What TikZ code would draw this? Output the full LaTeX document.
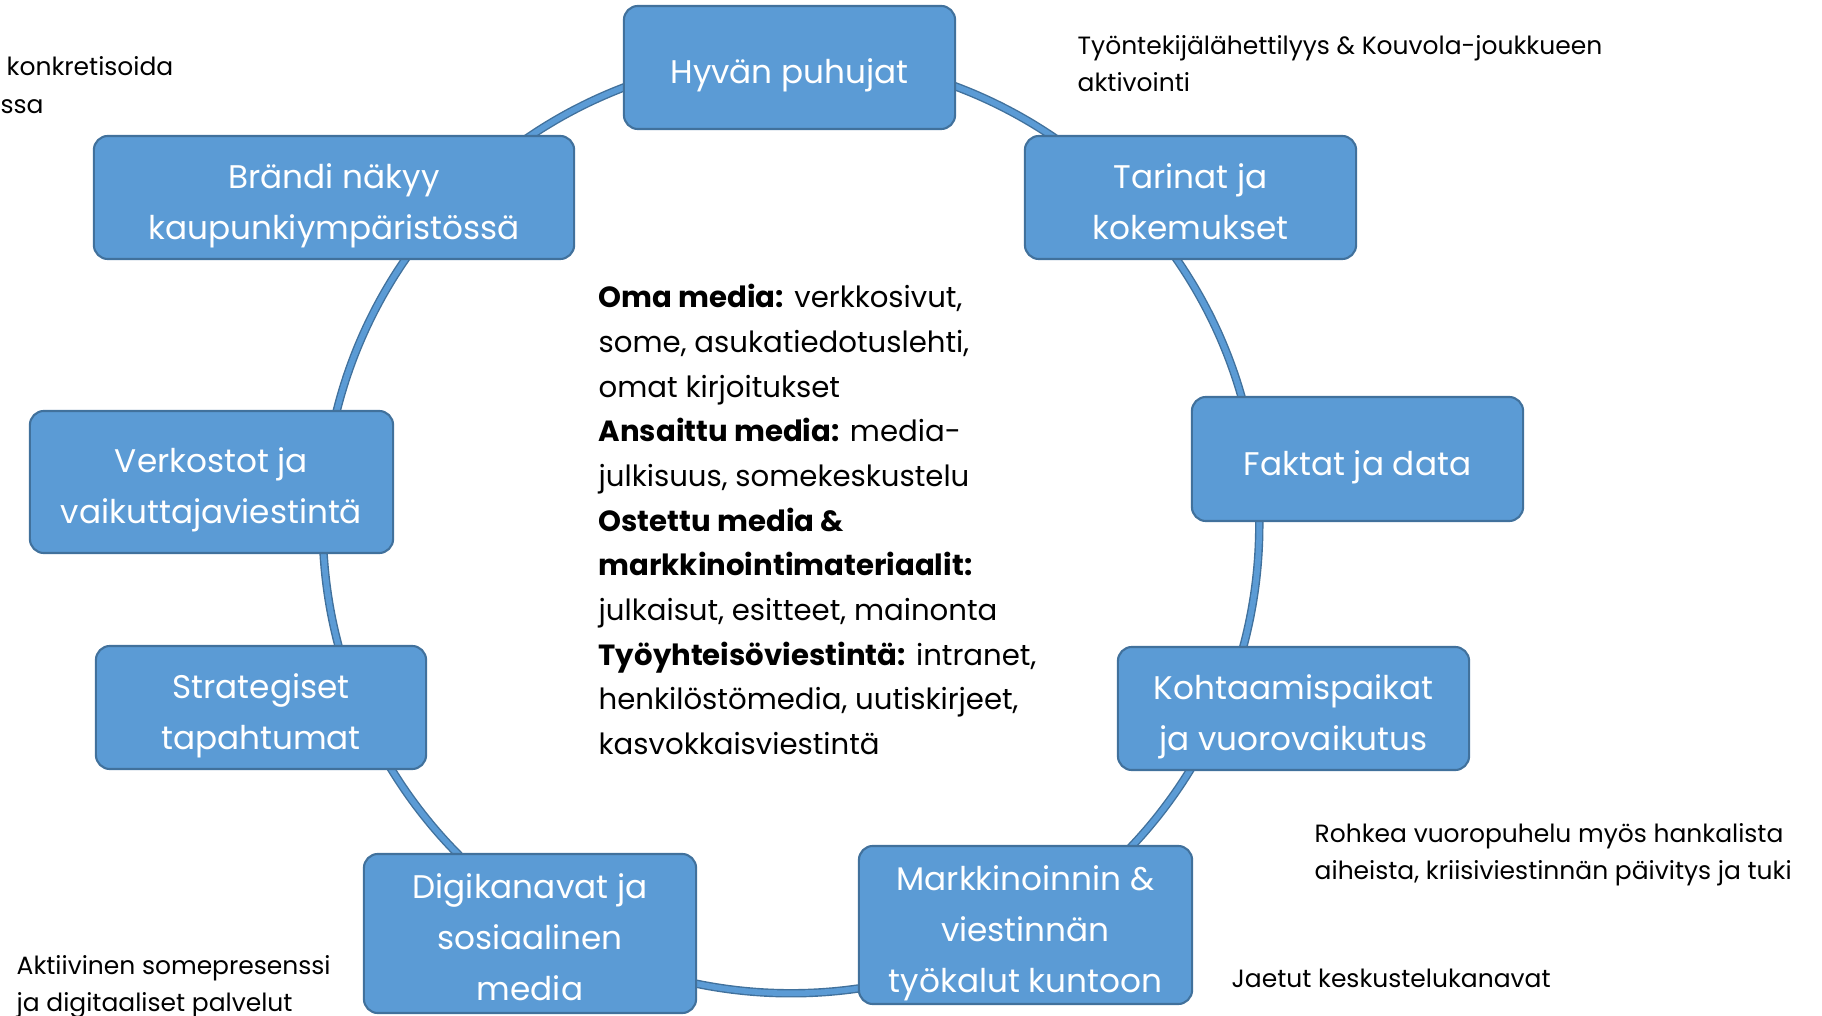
\documentclass[tikz,border=0pt]{standalone}
\usepackage{fontspec}
\setmainfont{Poppins}
\definecolor{topicblue}{HTML}{5B9BD5}
\definecolor{topicedge}{HTML}{41719C}
% fixed line metrics for the box texts
\newcommand{\tstrut}{\rule[-2.3pt]{0pt}{13.9pt}}

\begin{document}
\begin{tikzpicture}[x=0.01cm, y=-0.01cm,
  topic/.style={draw=topicedge, line width=0.6pt, fill=topicblue, rounded corners=4pt,
                text=white, align=center, inner sep=0pt,
                font=\fontsize{9.3}{14.5}\selectfont},
  note/.style={anchor=west, align=left, inner sep=0pt, text=black,
               font=\fontsize{7.1}{10.5}\selectfont},
  media/.style={anchor=west, align=left, inner sep=0pt, text=black,
                font=\fontsize{8.3}{12.7}\selectfont},
  ringedge/.style={draw=topicedge, line width=2.4pt},
  ringfill/.style={draw=topicblue, line width=1.6pt}
]
  \useasboundingbox (0,0) rectangle (1822,1016);

  % Ring behind the topics
  \coordinate (hub) at (791,525);
  \draw[ringedge] (hub) circle[radius=4.68cm];
  \draw[ringfill] (hub) circle[radius=4.68cm];

  % Topic boxes around the ring
  \node[topic, minimum width=3.31cm, minimum height=1.23cm] (puhujat) at (789.5,67.5) {\tstrut Hyvän puhujat\tstrut};
  \node[topic, minimum width=3.31cm, minimum height=1.23cm] (tarinat) at (1190.5,197.5) {\tstrut Tarinat ja\\kokemukset\tstrut};
  \node[topic, minimum width=3.31cm, minimum height=1.24cm] (faktat) at (1357.5,459) {\tstrut Faktat ja data\tstrut};
  \node[topic, minimum width=3.51cm, minimum height=1.23cm] (kohtaamis) at (1293.5,708.5) {\tstrut Kohtaamispaikat\\ja vuorovaikutus\tstrut};
  \node[topic, minimum width=3.33cm, minimum height=1.58cm] (tyokalut) at (1025.5,925) {\tstrut Markkinoinnin \&\\viestinnän\\työkalut kuntoon\tstrut};
  \node[topic, minimum width=3.32cm, minimum height=1.59cm] (digi) at (530,933.5) {\tstrut Digikanavat ja\\sosiaalinen\\media\tstrut};
  \node[topic, minimum width=3.30cm, minimum height=1.23cm] (tapahtumat) at (261,707.5) {\tstrut Strategiset\\tapahtumat\tstrut};
  \node[topic, minimum width=3.63cm, minimum height=1.42cm] (verkostot) at (211.5,482) {\tstrut Verkostot ja\\vaikuttajaviestintä\tstrut};
  \node[topic, minimum width=4.80cm, minimum height=1.23cm] (brandi) at (334,197.5) {\tstrut Brändi näkyy\\kaupunkiympäristössä\tstrut};

  % Media types in the middle
  \node[media] (mediat) at (598,519.5) {%
    \textbf{Oma media:} verkkosivut,\\
    some, asukatiedotuslehti,\\
    omat kirjoitukset\\
    \textbf{Ansaittu media:} media-\\
    julkisuus, somekeskustelu\\
    \textbf{Ostettu media \&}\\
    \textbf{markkinointimateriaalit:}\\
    julkaisut, esitteet, mainonta\\
    \textbf{Työyhteisöviestintä:} intranet,\\
    henkilöstömedia, uutiskirjeet,\\
    kasvokkaisviestintä};

  % Side notes
  \node[note] (lahettilyys) at (1077,64) {Työntekijälähettilyys \& Kouvola-joukkueen\\aktivointi};
  \node[note] (rohkea) at (1314,855) {Rohkea vuoropuhelu myös hankalista\\aiheista, kriisiviestinnän päivitys ja tuki};
  \node[note] (jaetut) at (1231,978) {Jaetut keskustelukanavat};
  \node[note] (aktiivinen) at (16,987) {Aktiivinen somepresenssi\\ja digitaaliset palvelut};
  \node[note] (konkret) at (6,66) {konkretisoida};
  \node[note] (konkret2) at (-16,107) {ussa};
\end{tikzpicture}
\end{document}
